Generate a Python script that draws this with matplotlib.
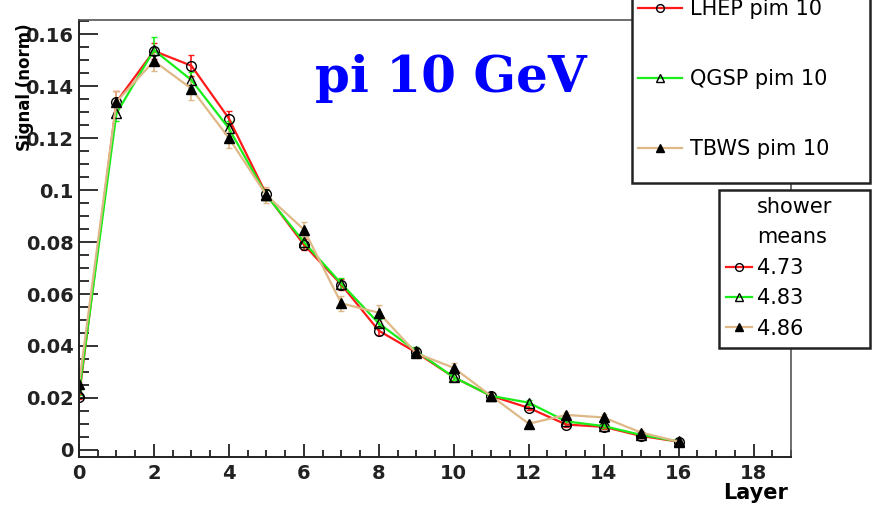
import matplotlib
matplotlib.use('Agg')
import matplotlib.pyplot as plt
from matplotlib.patches import Rectangle
from matplotlib.ticker import MultipleLocator, FixedLocator
import numpy as np

# layer index and normalised signal per physics list
layers = list(range(17))

lhep = [0.0205, 0.1339, 0.1535, 0.1478, 0.1275, 0.0983, 0.0790, 0.0636, 0.0459, 0.0375,
        0.0280, 0.0208, 0.0162, 0.0098, 0.0089, 0.0054, 0.0032]
lhep_err = [0.001, 0.004, 0.003, 0.004, 0.003, 0.002, 0.002, 0.002, 0.0015, 0.0015,
            0.0012, 0.001, 0.001, 0.001, 0.0008, 0.0006, 0.0005]

qgsp = [0.0220, 0.1295, 0.1538, 0.1423, 0.1237, 0.0980, 0.0800, 0.0640, 0.0487, 0.0380,
        0.0280, 0.0208, 0.0182, 0.0110, 0.0092, 0.0058, 0.0033]
qgsp_err = [0.001, 0.003, 0.005, 0.003, 0.003, 0.002, 0.002, 0.002, 0.0015, 0.0015,
            0.0012, 0.001, 0.001, 0.001, 0.0008, 0.0006, 0.0005]

tbws = [0.0253, 0.1340, 0.1496, 0.1390, 0.1200, 0.0980, 0.0848, 0.0564, 0.0528, 0.0372,
        0.0316, 0.0208, 0.0101, 0.0135, 0.0125, 0.0067, 0.0032]
tbws_err = [0.001, 0.004, 0.004, 0.0045, 0.004, 0.003, 0.003, 0.003, 0.003, 0.002,
            0.002, 0.001, 0.001, 0.001, 0.0012, 0.0008, 0.0005]

names = ['LHEP pim 10', 'QGSP pim 10', 'TBWS pim 10']
shower_means = ['4.73', '4.83', '4.86']
colors = ['#ff1a1a', '#1aee1a', '#deb887']
markers = ['o', '^', '^']
mfaces = ['none', 'none', 'black']

yticks = [0, 0.02, 0.04, 0.06, 0.08, 0.1, 0.12, 0.14, 0.16]

W, H = 876, 508
fig = plt.figure(figsize=(W / 100, H / 100), dpi=100)
ax = fig.add_axes([79 / W, 1 - 457 / H, (791 - 79) / W, (457 - 20) / H])

lines = []
for y, e, c, m, f in zip([lhep, qgsp, tbws], [lhep_err, qgsp_err, tbws_err],
                         colors, markers, mfaces):
    cont = ax.errorbar(layers, y, yerr=e, color=c, lw=1.6, marker=m, ms=7,
                       mfc=f, mec='black', mew=1.0, capsize=2.5, elinewidth=1.2)
    lines.append(cont[0])

ax.set_xlim(0, 19)
ax.set_ylim(-0.0027, 0.1654)
ax.xaxis.set_major_locator(MultipleLocator(2))
ax.xaxis.set_minor_locator(MultipleLocator(0.5))
ax.yaxis.set_major_locator(FixedLocator(yticks))
ax.set_yticklabels(['%g' % v for v in yticks])
ax.yaxis.set_minor_locator(MultipleLocator(0.005))
ax.tick_params(axis='both', which='both', direction='in', width=1.3, colors='#222',
               labelsize=14)
ax.tick_params(axis='x', which='major', length=9.5, pad=5)
ax.tick_params(axis='x', which='minor', length=5)
ax.tick_params(axis='y', which='major', length=14, pad=4)
ax.tick_params(axis='y', which='minor', length=7)
for lab in ax.get_xticklabels() + ax.get_yticklabels():
    lab.set_fontweight('bold')
for s in ['left', 'bottom']:
    ax.spines[s].set_linewidth(1.4)
    ax.spines[s].set_color('#222')
for s in ['top', 'right']:
    ax.spines[s].set_linewidth(1.2)
    ax.spines[s].set_color('#555')

fig.text(25 / W, 1 - 23 / H, 'Signal (norm)', rotation=90, ha='center', va='top',
         fontsize=12, fontweight='bold')
fig.text(788 / W, 1 - 493 / H, 'Layer', ha='right', va='center', fontsize=15,
         fontweight='bold')
fig.text(315 / W, 1 - 92 / H, 'pi 10 GeV', ha='left', va='baseline', fontsize=36,
         fontweight='bold', family='DejaVu Serif', color='#0000ff')

# legend boxes
fig.add_artist(Rectangle((632 / W, 1 - 183 / H), 238 / W, 0.4, transform=fig.transFigure,
                         facecolor='white', edgecolor='#222', lw=1.8, zorder=3))
fig.add_artist(Rectangle((719 / W, 1 - 348 / H), 151 / W, 158 / H, transform=fig.transFigure,
                         facecolor='white', edgecolor='#222', lw=1.8, zorder=3))

fig.legend(lines, names, loc='upper left', bbox_to_anchor=(638 / W, 1 + 1 / H),
           frameon=False, borderpad=0, borderaxespad=0, fontsize=15,
           handlelength=2.1, handletextpad=0.4, labelspacing=2.4, markerscale=0.8)

blank = [plt.Line2D([], [], linestyle='none') for _ in range(2)]
fig.legend(blank + lines, ['shower', 'means'] + shower_means, loc='upper left',
           bbox_to_anchor=(726 / W, 1 - 197 / H), frameon=False, borderpad=0,
           borderaxespad=0, fontsize=15, handlelength=1.25, handletextpad=0.25,
           labelspacing=0.5, markerscale=0.8)

fig.savefig('out.png', dpi=100)
